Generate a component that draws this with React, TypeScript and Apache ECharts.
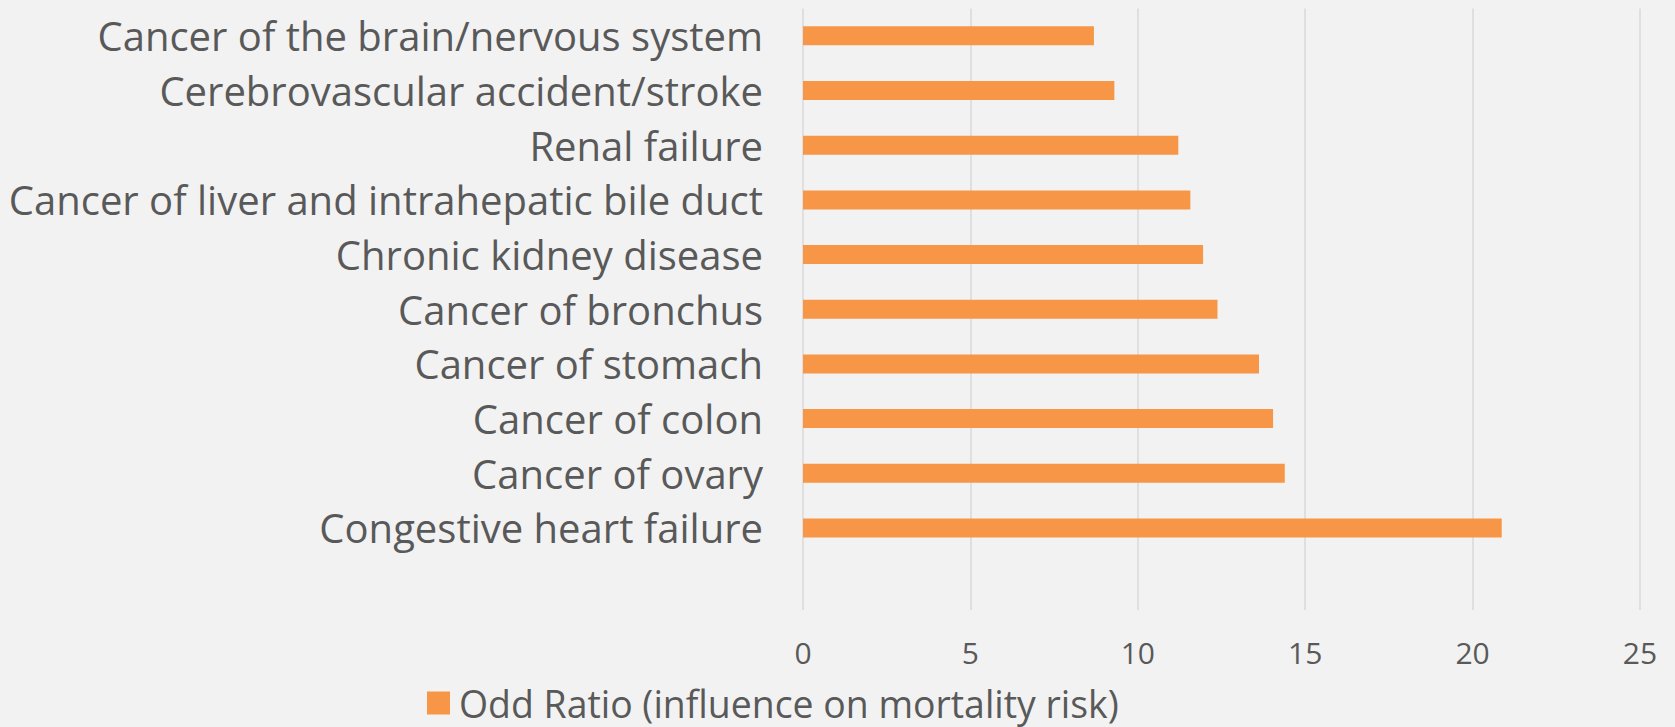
import React, { useEffect, useRef } from "react";
import * as echarts from "echarts";

const categories = [
  "Cancer of the brain/nervous system",
  "Cerebrovascular accident/stroke",
  "Renal failure",
  "Cancer of liver and intrahepatic bile duct",
  "Chronic kidney disease",
  "Cancer of bronchus",
  "Cancer of stomach",
  "Cancer of colon",
  "Cancer of ovary",
  "Congestive heart failure",
  "",
];

const oddRatios: (number | string)[] = [8.69, 9.3, 11.21, 11.57, 11.95, 12.38, 13.62, 14.04, 14.39, 20.87, "-"];

const xTicks = { min: 0, max: 25, interval: 5 };

const seriesName = "Odd Ratio (influence on mortality risk)";

export default function App() {
  const ref = useRef<HTMLDivElement>(null);

  useEffect(() => {
    document.body.style.margin = "0";
    if (!ref.current) return;
    const chart = echarts.init(ref.current, null, { renderer: "svg" });
    const font = "'Open Sans', sans-serif";
    const textColor = "#595959";
    chart.setOption({
      animation: false,
      backgroundColor: "#f2f2f2",
      textStyle: { fontFamily: font },
      grid: { left: 803, right: 35, top: 8.5, bottom: 117, containLabel: false },
      legend: {
        data: [seriesName],
        left: 427,
        top: 683,
        padding: 0,
        itemWidth: 23,
        itemHeight: 23,
        icon: "rect",
        textStyle: {
          fontFamily: font,
          fontSize: 37.4,
          color: textColor,
          lineHeight: 40,
          padding: [0, 0, 0, 4],
        },
      },
      xAxis: {
        type: "value",
        min: xTicks.min,
        max: xTicks.max,
        interval: xTicks.interval,
        axisLine: { show: false },
        axisTick: { show: false },
        axisLabel: { fontFamily: font, fontSize: 30, color: textColor, margin: 27 },
        splitLine: { show: true, lineStyle: { color: "#d9d9d9", width: 1.5 } },
      },
      yAxis: {
        type: "category",
        data: categories,
        inverse: true,
        axisLine: { show: false },
        axisTick: { show: false },
        axisLabel: { fontFamily: font, fontSize: 40, color: textColor, margin: 40 },
        splitLine: { show: false },
      },
      series: [
        {
          name: seriesName,
          type: "bar",
          data: oddRatios,
          barWidth: 19,
          itemStyle: { color: "#f79646" },
        },
      ],
    });
    return () => chart.dispose();
  }, []);

  return <div ref={ref} style={{ width: 1675, height: 727 }} />;
}
